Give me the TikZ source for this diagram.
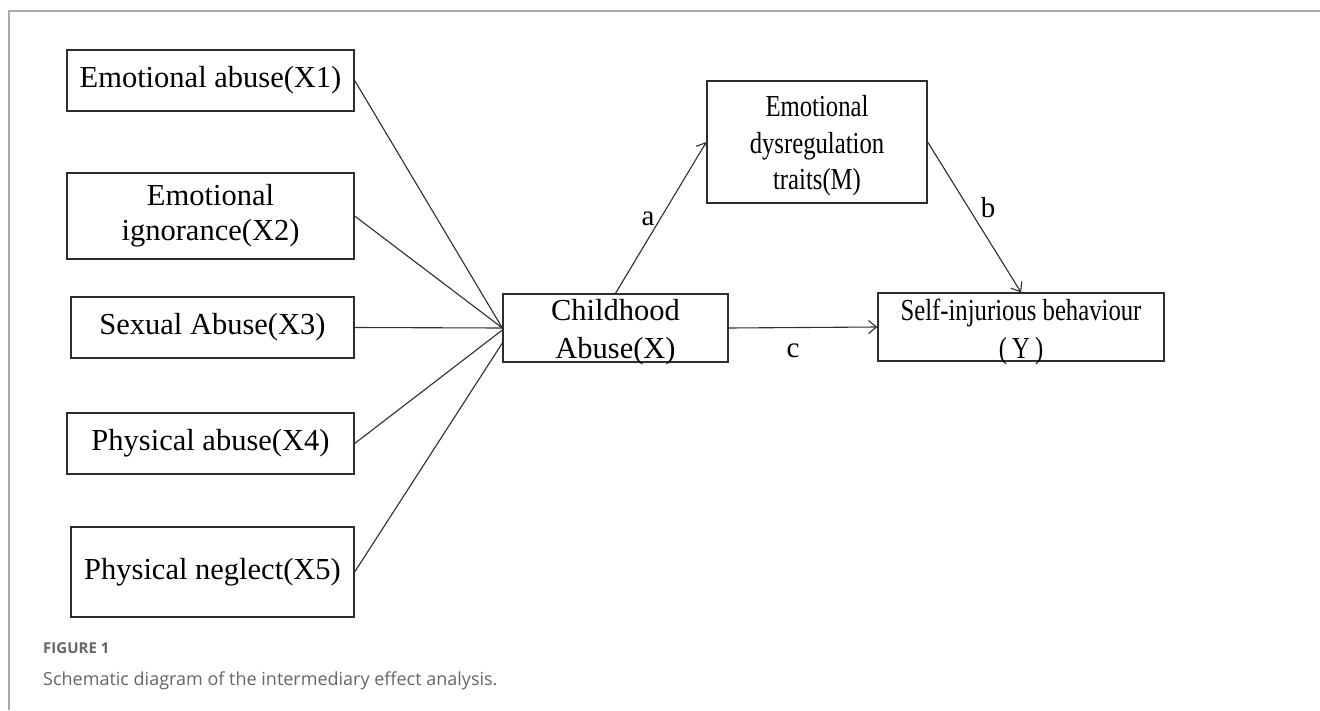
\documentclass[tikz,border=0pt]{standalone}
\usepackage{fontspec}
\setmainfont{Liberation Serif}
\newfontfamily\condfont[FakeStretch=0.81]{Liberation Serif}
\newfontfamily\capfont{Open Sans}
\usetikzlibrary{arrows.meta}
\definecolor{boxline}{HTML}{2E2E2E}
\definecolor{frameline}{HTML}{AAAAAA}
\definecolor{captext}{HTML}{666666}
\tikzset{
  fbox/.style={draw=boxline, line width=1.3bp, rectangle, inner sep=0pt, align=center,
    font=\fontsize{30.5bp}{35bp}\selectfont},
  cbox/.style={fbox, font=\condfont\fontsize{30.5bp}{36.5bp}\selectfont},
  link/.style={draw=boxline, line width=1.1bp},
  arr/.style={link, -{Straight Barb[length=8bp,width=13bp,line width=1.1bp]}},
  lbl/.style={inner sep=0pt, font=\fontsize{29bp}{30bp}\selectfont},
  frame/.style={draw=frameline, line width=1.6bp}
}
\begin{document}
\begin{tikzpicture}[x=1bp,y=-1bp]
\useasboundingbox (0,0) rectangle (1320,710);
\fill[white] (0,0) rectangle (1320,710);
% frame
\coordinate (ftl) at (9,11);
\coordinate (ftr) at (1320,11);
\coordinate (fbl) at (9,710);
\draw[frame] (ftr) -- (ftl) -- (fbl);
% left boxes
\node[fbox, minimum width=287bp, minimum height=61bp] (X1) at (210.5,80.5) {Emotional abuse(X1)};
\node[fbox, minimum width=287bp, minimum height=86bp] (X2) at (210.5,216) {Emotional\\ignorance(X2)};
\node[fbox, minimum width=283bp, minimum height=61bp] (X3) at (212.5,327.5) {Sexual Abuse(X3)};
\node[fbox, minimum width=287bp, minimum height=61bp] (X4) at (210.5,443.5) {Physical abuse(X4)};
\node[fbox, minimum width=283bp, minimum height=90bp] (X5) at (212.5,572) {Physical neglect(X5)};
% center and right boxes
\node[fbox, font=\fontsize{30.5bp}{38bp}\selectfont, inner ysep=-5bp, minimum width=225bp, minimum height=68bp] (CA) at (615.5,328) {\rule{0pt}{30bp}Childhood\\Abuse(X)};
\node[cbox, minimum width=220bp, minimum height=122bp] (M) at (817,142) {\rule{0pt}{29bp}Emotional\\dysregulation\\traits(M)};
\node[cbox, font=\condfont\fontsize{30.5bp}{38bp}\selectfont, inner ysep=-5bp, minimum width=286bp, minimum height=68bp] (Y) at (1021,327) {\rule{0pt}{31bp}Self-injurious behaviour\\(\,Y\,)};
% connectors
\draw[link] (X1.east) -- (CA.west);
\draw[link] (X2.east) -- (CA.west);
\draw[link] (X3.east) -- (CA.west);
\draw[link] (X4.east) -- ([yshift=-2bp]CA.west);
\draw[link] (X5.east) -- ([yshift=-15bp]CA.west);
\draw[arr] (CA.north) -- (M.west);
\draw[arr] (M.east) -- (Y.north);
\draw[arr] (CA.east) -- (Y.west);
% path labels
\node[lbl] (la) at (648,219) {a};
\node[lbl] (lb) at (988,208) {b};
\node[lbl] (lc) at (793,351) {c};
% caption
\node[anchor=west, inner sep=0pt, text=captext, font=\capfont\bfseries\fontsize{15bp}{16bp}\selectfont] (fig) at (43,648) {FIGURE 1};
\node[anchor=west, inner sep=0pt, text=captext, font=\capfont\fontsize{18bp}{20bp}\selectfont] (cap) at (43,681) {Schematic diagram of the intermediary effect analysis.};
\end{tikzpicture}
\end{document}
